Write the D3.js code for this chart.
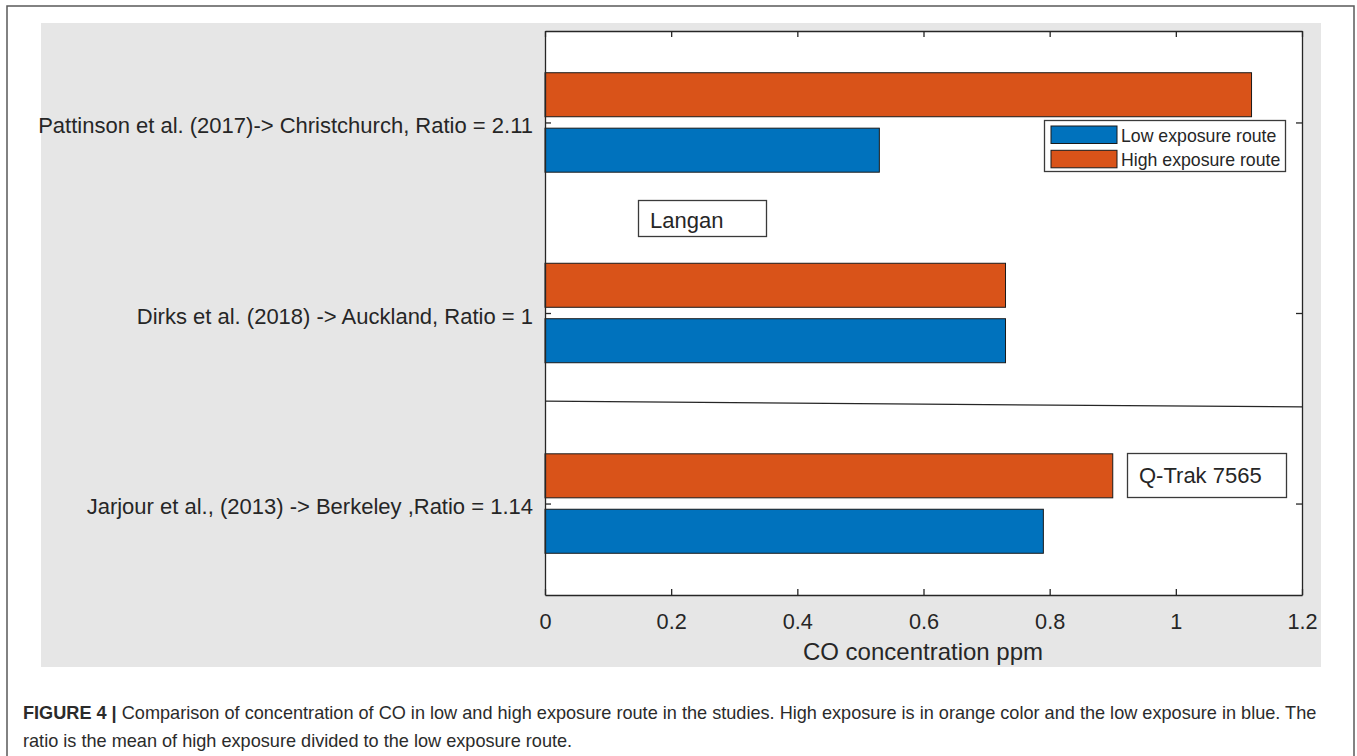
<!DOCTYPE html>
<html>
<head>
<meta charset="utf-8">
<script src="https://cdn.jsdelivr.net/npm/d3@7"></script>
<style>
  html, body { margin: 0; padding: 0; background: #ffffff; }
  svg { display: block; }
  text { font-family: "Liberation Sans", Arial, Helvetica, sans-serif; }
</style>
</head>
<body>
<script>
// ---------------- data ----------------
const categories = [
  "Pattinson et al. (2017)-> Christchurch, Ratio = 2.11",
  "Dirks et al. (2018) -> Auckland, Ratio = 1",
  "Jarjour et al., (2013) -> Berkeley ,Ratio = 1.14"
];
const lowValues  = [0.53, 0.73, 0.79];   // blue
const highValues = [1.12, 0.73, 0.90];   // orange
const seriesNames = ["Low exposure route", "High exposure route"];
const xTicks = [0, 0.2, 0.4, 0.6, 0.8, 1, 1.2];
const xTickLabels = ["0", "0.2", "0.4", "0.6", "0.8", "1", "1.2"];
const xLabel = "CO concentration ppm";
const annotations = ["Langan", "Q-Trak 7565"];
const dividerLine = [[0, 2.463], [1.2, 2.493]];
const captionBold = "FIGURE 4 | ";
const captionLine1 = "Comparison of concentration of CO in low and high exposure route in the studies. High exposure is in orange color and the low exposure in blue. The";
const captionLine2 = "ratio is the mean of high exposure divided to the low exposure route.";

// ---------------- layout ----------------
const W = 1357, H = 756;
const plot = { left: 545, right: 1302, top: 31, bottom: 595 };
const colors = { low: "#0072BD", high: "#D95319", axis: "#262626", panel: "#e6e6e6" };
const tickFont = 21.7, catFont = 22, annFont = 22, labelFont = 24, legendFont = 17.7;

const svg = d3.select("body").append("svg").attr("width", W).attr("height", H);

// outer frame
svg.append("rect").attr("x", 7).attr("y", 6).attr("width", 1347).attr("height", 800)
  .attr("fill", "none").attr("stroke", "#5a5a5a").attr("stroke-width", 1.5);
// grey figure panel
svg.append("rect").attr("x", 41).attr("y", 23).attr("width", 1280).attr("height", 644)
  .attr("fill", colors.panel);

const x = d3.scaleLinear().domain([0, 1.2]).range([plot.left, plot.right]);
const y = d3.scaleLinear().domain([0.52, 3.48]).range([plot.top, plot.bottom]);

// axes background
svg.append("rect").attr("x", plot.left).attr("y", plot.top)
  .attr("width", plot.right - plot.left).attr("height", plot.bottom - plot.top)
  .attr("fill", "#ffffff");

const barThick = 0.231, barOffset = 0.1455;
const g = svg.append("g");

// bars
categories.forEach((c, i) => {
  const pos = i + 1;
  g.append("rect")
    .attr("x", x(0)).attr("y", y(pos - barOffset - barThick / 2))
    .attr("width", x(highValues[i]) - x(0))
    .attr("height", y(barThick) - y(0))
    .attr("fill", colors.high).attr("stroke", "#1a1a1a").attr("stroke-width", 1);
  g.append("rect")
    .attr("x", x(0)).attr("y", y(pos + barOffset - barThick / 2))
    .attr("width", x(lowValues[i]) - x(0))
    .attr("height", y(barThick) - y(0))
    .attr("fill", colors.low).attr("stroke", "#1a1a1a").attr("stroke-width", 1);
});

// divider line
svg.append("line")
  .attr("x1", x(dividerLine[0][0])).attr("y1", y(dividerLine[0][1]))
  .attr("x2", x(dividerLine[1][0])).attr("y2", y(dividerLine[1][1]))
  .attr("stroke", "#262626").attr("stroke-width", 1.2);

// axes (box + inward ticks)
const tickLen = 6;
const axB = d3.axisBottom(x).tickValues(xTicks).tickFormat((d, i) => xTickLabels[i]).tickSizeInner(-tickLen).tickSizeOuter(0).tickPadding(14);
const axT = d3.axisTop(x).tickValues(xTicks).tickFormat("").tickSizeInner(-tickLen).tickSizeOuter(0);
const yTicks = categories.map((c, i) => i + 1);
const axL = d3.axisLeft(y).tickValues(yTicks).tickFormat((d) => categories[d - 1]).tickSizeInner(-tickLen).tickSizeOuter(0).tickPadding(12);
const axR = d3.axisRight(y).tickValues(yTicks).tickFormat("").tickSizeInner(-tickLen).tickSizeOuter(0);

function styleAxis(sel) {
  sel.selectAll("path.domain").attr("stroke", colors.axis).attr("stroke-width", 1.3);
  sel.selectAll(".tick line").attr("stroke", colors.axis).attr("stroke-width", 1.3);
  sel.selectAll("text").attr("fill", colors.axis).style("font-family", '"Liberation Sans", Arial, sans-serif');
}
const gB = svg.append("g").attr("transform", `translate(0,${plot.bottom})`).call(axB);
gB.selectAll("text").attr("font-size", tickFont).attr("dy", null).attr("y", 34);
styleAxis(gB);
const gT = svg.append("g").attr("transform", `translate(0,${plot.top})`).call(axT);
styleAxis(gT);
const gL = svg.append("g").attr("transform", `translate(${plot.left},0)`).call(axL);
gL.selectAll("text").attr("font-size", catFont).attr("dy", "0.46em").attr("x", -12);
styleAxis(gL);
const gR = svg.append("g").attr("transform", `translate(${plot.right},0)`).call(axR);
styleAxis(gR);

// x label
svg.append("text").attr("x", (plot.left + plot.right) / 2 - 0.5).attr("y", 660)
  .attr("text-anchor", "middle").attr("font-size", labelFont).attr("fill", colors.axis)
  .text(xLabel);

// annotation boxes
function annBox(x0, y0, w, h, tx, ty, txt) {
  svg.append("rect").attr("x", x0).attr("y", y0).attr("width", w).attr("height", h)
    .attr("fill", "#ffffff").attr("stroke", "#3a3a3a").attr("stroke-width", 1.3);
  svg.append("text").attr("x", tx).attr("y", ty).attr("font-size", annFont)
    .attr("fill", colors.axis).text(txt);
}
annBox(638.5, 200.5, 128, 36, 650, 228, annotations[0]);
annBox(1127.5, 453.5, 159, 44, 1139, 483, annotations[1]);

// legend
const lg = svg.append("g");
lg.append("rect").attr("x", 1044.5).attr("y", 120.5).attr("width", 241).attr("height", 51)
  .attr("fill", "#ffffff").attr("stroke", "#3a3a3a").attr("stroke-width", 1.3);
const legendColors = [colors.low, colors.high];
seriesNames.forEach((s, i) => {
  lg.append("rect").attr("x", 1051).attr("y", 126 + i * 24.3).attr("width", 66).attr("height", 17.5)
    .attr("fill", legendColors[i]).attr("stroke", "#1a1a1a").attr("stroke-width", 1);
  lg.append("text").attr("x", 1121).attr("y", 141.5 + i * 24.3).attr("font-size", legendFont)
    .attr("fill", colors.axis).text(s);
});

// caption
const capX = 23, capTarget = 1295;
const cap = svg.append("text").attr("x", capX).attr("y", 719).attr("fill", "#2b2b2b").attr("font-size", 16);
cap.append("tspan").attr("font-weight", "bold").text(captionBold);
cap.append("tspan").text(captionLine1);
const w1 = cap.node().getComputedTextLength();
const capSize = 16 * capTarget / w1;
cap.attr("font-size", capSize);
svg.append("text").attr("x", capX).attr("y", 747).attr("fill", "#2b2b2b").attr("font-size", capSize)
  .text(captionLine2);
</script>
</body>
</html>
